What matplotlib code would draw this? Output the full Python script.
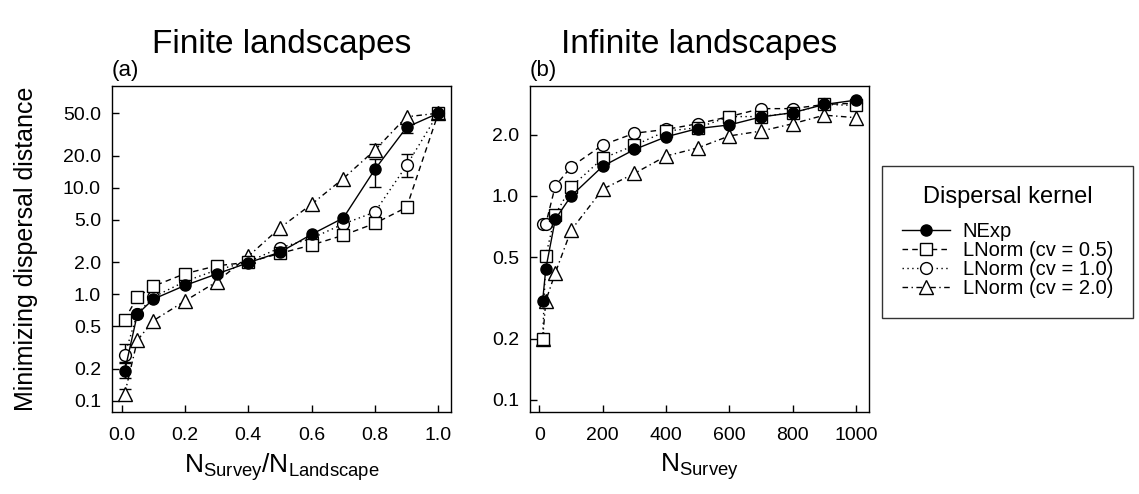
import numpy as np
import matplotlib
matplotlib.use('Agg')
import matplotlib.pyplot as plt

plt.rcParams['font.family'] = ['Liberation Sans', 'DejaVu Sans']
plt.rcParams['mathtext.fontset'] = 'custom'
plt.rcParams['mathtext.rm'] = 'Liberation Sans'
plt.rcParams['mathtext.it'] = 'Liberation Sans:italic'

# finite landscapes: fraction of landscape surveyed
frac = [0.01, 0.05, 0.1, 0.2, 0.3, 0.4, 0.5, 0.6, 0.7, 0.8, 0.9, 1.0]
a_nexp = [0.19, 0.65, 0.90, 1.21, 1.55, 1.98, 2.48, 3.65, 5.2, 14.9, 36.9, 50]
a_cv05 = [0.58, 0.94, 1.19, 1.56, 1.85, 2.0, 2.42, 2.9, 3.58, 4.63, 6.55, 50]
a_cv10 = [0.27, 0.66, 0.94, 1.32, 1.69, 2.02, 2.73, 3.35, 4.57, 5.92, 16.2, 50]
a_cv20 = [0.116, 0.37, 0.565, 0.865, 1.31, 2.27, 4.2, 7.0, 12.2, 22.6, 46.3, 50]

# error bars (x, lower, upper) where they show
a_nexp_err = ([0.01, 0.8, 0.9], [0.165, 10.1, 32.5], [0.225, 18.5, 40.5])
a_cv10_err = ([0.01, 0.9], [0.23, 12.7], [0.34, 20.8])
a_cv20_err = ([0.01, 0.8], [0.105, 20.0], [0.13, 25.7])

# infinite landscapes: number surveyed
nsurvey = [10, 20, 50, 100, 200, 300, 400, 500, 600, 700, 800, 900, 1000]
b_nexp = [0.307, 0.44, 0.77, 1.0, 1.40, 1.69, 1.95, 2.14, 2.23, 2.44, 2.56, 2.81, 2.95]
b_cv05 = [0.20, 0.51, 0.81, 1.11, 1.53, 1.77, 2.08, 2.16, 2.45, 2.45, 2.56, 2.81, 2.78]
b_cv10 = [0.73, 0.73, 1.12, 1.39, 1.78, 2.03, 2.12, 2.26, 2.45, 2.68, 2.68, 2.81, 2.85]
b_cv20 = [0.20, 0.307, 0.42, 0.68, 1.08, 1.29, 1.57, 1.72, 1.97, 2.08, 2.26, 2.49, 2.42]

labels = ['NExp', 'LNorm (cv = 0.5)', 'LNorm (cv = 1.0)', 'LNorm (cv = 2.0)']

lw = 1.0
sty = {
    'nexp': dict(marker='o', ms=8, mfc='black', mec='black', color='black'),
    'cv05': dict(marker='s', ms=8, mfc='white', mec='black', color='black'),
    'cv10': dict(marker='o', ms=8.5, mfc='white', mec='black', color='black'),
    'cv20': dict(marker='^', ms=10.5, mfc='white', mec='black', color='black'),
}
dash = (0, (4, 3))
dot = (0, (1, 2.5))
dashdot = (0, (4, 2.5, 1, 2.5))

fig = plt.figure(figsize=(11.39, 4.94), dpi=100)
ax1 = fig.add_axes([112/1139, 82/494, 339/1139, 326/494])
ax2 = fig.add_axes([530/1139, 82/494, 339/1139, 326/494])


def errs(ax, e):
    x, lo, hi = e
    ax.errorbar(x, [(l+h)/2 for l, h in zip(lo, hi)],
                yerr=[[(h-l)/2 for l, h in zip(lo, hi)]]*2,
                fmt='none', ecolor='black', elinewidth=lw, capsize=4.5,
                capthick=lw, zorder=2)


errs(ax1, a_nexp_err)
errs(ax1, a_cv10_err)
errs(ax1, a_cv20_err)
h4 = ax1.plot(frac, a_cv20, ls=dashdot, lw=lw, zorder=3, **sty['cv20'])[0]
h3 = ax1.plot(frac, a_cv10, ls=dot, lw=lw, zorder=3, **sty['cv10'])[0]
h2 = ax1.plot(frac, a_cv05, ls=dash, lw=lw, zorder=3, **sty['cv05'])[0]
h1 = ax1.plot(frac, a_nexp, ls='-', lw=lw, zorder=4, **sty['nexp'])[0]

ax2.plot(nsurvey, b_cv20, ls=dashdot, lw=lw, zorder=3, **sty['cv20'])
ax2.plot(nsurvey, b_cv10, ls=dash, lw=lw, zorder=3, **sty['cv10'])
ax2.plot(nsurvey, b_cv05, ls=dot, lw=lw, zorder=3, **sty['cv05'])
ax2.plot(nsurvey, b_nexp, ls='-', lw=lw, zorder=4, **sty['nexp'])

for ax in (ax1, ax2):
    ax.set_yscale('log')
    ax.tick_params(direction='in', length=5, width=1.0, labelsize=14,
                   top=False, right=False)
    ax.tick_params(axis='x', pad=11)
    ax.tick_params(axis='y', pad=8)
    for s in ax.spines.values():
        s.set_linewidth(1.0)

ax1.set_ylim(0.0787, 90)
ax1.set_xlim(-0.03, 1.04)
yt1 = [0.1, 0.2, 0.5, 1, 2, 5, 10, 20, 50]
ax1.set_yticks(yt1)
ax1.set_yticklabels(['0.1', '0.2', '0.5', '1.0', '2.0', '5.0', '10.0', '20.0', '50.0'])
xt1 = [0.0, 0.2, 0.4, 0.6, 0.8, 1.0]
ax1.set_xticks(xt1)
ax1.set_xticklabels(['%.1f' % v for v in xt1])

ax2.set_ylim(0.0873, 3.46)
ax2.set_xlim(-30, 1041)
yt2 = [0.1, 0.2, 0.5, 1, 2]
ax2.set_yticks(yt2)
ax2.set_yticklabels(['0.1', '0.2', '0.5', '1.0', '2.0'])
ax2.set_xticks([0, 200, 400, 600, 800, 1000])
ax2.set_xticklabels(['0', '200', '400', '600', '800', '1000'])
ax1.minorticks_off()
ax2.minorticks_off()

ax1.set_title('Finite landscapes', fontsize=24, pad=24)
ax2.set_title('Infinite landscapes', fontsize=24, pad=24)
ax1.text(0.0, 1.015, '(a)', transform=ax1.transAxes, fontsize=16, ha='left', va='bottom')
ax2.text(0.0, 1.015, '(b)', transform=ax2.transAxes, fontsize=16, ha='left', va='bottom')

ax1.set_ylabel('Minimizing dispersal distance', fontsize=18, labelpad=18)
ax1.set_xlabel(r'$\mathrm{N_{Survey}/N_{Landscape}}$', fontsize=19, labelpad=5)
ax2.set_xlabel(r'$\mathrm{N_{Survey}}$', fontsize=19, labelpad=5)

leg = fig.legend([h1, h2, h3, h4], labels, title='Dispersal kernel',
                 loc='upper left', bbox_to_anchor=(882/1139, 1 - 166/494),
                 fontsize=14.5, title_fontsize=17, frameon=True, fancybox=False,
                 edgecolor='black', handlelength=2.4, handletextpad=0.6,
                 labelspacing=0.0, borderpad=1.0, borderaxespad=0)
leg.get_frame().set_linewidth(1.0)
# a bit more room between the legend title and its entries
leg._legend_box.sep = 10

plt.savefig('out.png', dpi=100)
